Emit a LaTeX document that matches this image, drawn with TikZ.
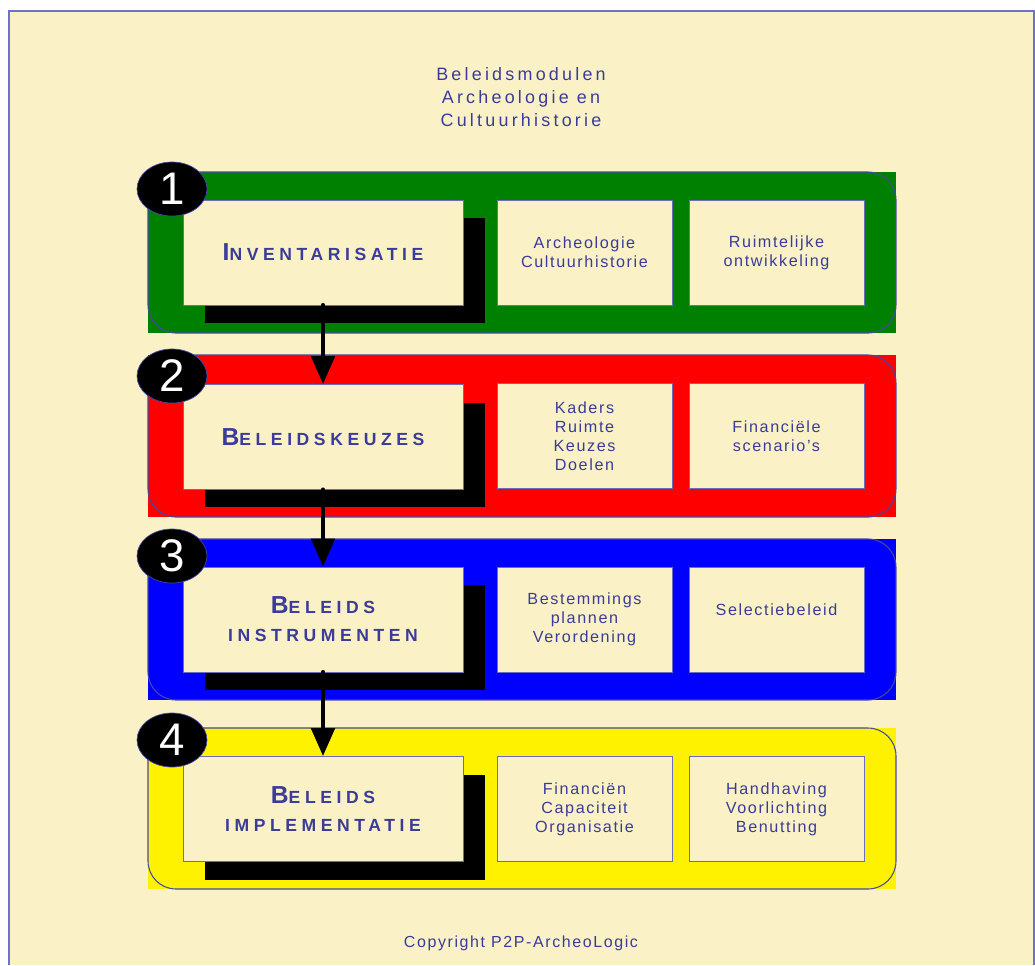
\documentclass[tikz,border=0pt]{standalone}
\usepackage{fontspec}
\setmainfont{Liberation Sans}
\newfontfamily\titlefont[LetterSpace=18]{Liberation Sans}
\newfontfamily\sidefont[LetterSpace=10]{Liberation Sans}
\newfontfamily\capsfont[LetterSpace=26]{Liberation Sans Bold}
\usetikzlibrary{
  arrows.meta,
  shapes.geometric,
  shadows,
}
\definecolor{paper}{HTML}{FAF2C6}
\definecolor{ink}{HTML}{3B3B9B}
\definecolor{edge}{HTML}{6C6CBC}
\definecolor{rim}{HTML}{4646A6}
\definecolor{frameline}{HTML}{7070C8}
\newcommand{\bigfirst}[2]{{\fontsize{14}{15.9}\selectfont #1}#2}
\tikzset{
  mainbox/.style={draw=edge, fill=paper, minimum width=5.6cm, minimum height=2.1cm,
    inner sep=0pt, align=center, text=ink, font={\capsfont\fontsize{10}{15.9}\selectfont},
    general shadow={fill=black, shadow xshift=0.44cm, shadow yshift=-0.36cm}},
  sidebox/.style={draw=edge, fill=paper, minimum width=3.5cm, minimum height=2.1cm,
    inner sep=0pt, align=center, text=ink, font={\sidefont\fontsize{9.2}{10.8}\selectfont}},
  badge/.style={ellipse, draw=rim, fill=black, text=white, minimum width=1.4cm,
    minimum height=1.08cm, inner sep=0pt, font={\fontsize{26}{26}\selectfont}},
  band/.style={rounded corners=0.56cm, draw=rim, line width=0.6pt},
  flow/.style={line width=2.8pt, line cap=round, -{Triangle[width=0.46cm, length=0.56cm]}},
}
\begin{document}
\begin{tikzpicture}[x=0.02cm, y=-0.02cm]
\useasboundingbox (0,0) rectangle (1035,965);
\fill[paper] (9,11) rectangle (1035,965);
\draw[frameline, line width=0.8pt] (9,965) |- (1034,11) -- (1034,965);

\node[text=ink, align=center, font={\titlefont\fontsize{10.2}{13}\selectfont}] (title) at (521,97)
  {Beleidsmodulen\\Archeologie en\\Cultuurhistorie};

\fill[green!50!black] (148,172) rectangle (896,333);
\draw[band] (148,172) rectangle (896,333);
\fill[red] (148,355) rectangle (896,517);
\draw[band] (148,355) rectangle (896,517);
\fill[blue] (148,539) rectangle (896,700);
\draw[band] (148,539) rectangle (896,700);
\fill[yellow] (148,728) rectangle (896,889);
\draw[band] (148,728) rectangle (896,889);

\node[mainbox] (inv) at (323,252.5) {\bigfirst{I}{NVENTARISATIE}};
\node[sidebox] (arch) at (584.5,252.5) {Archeologie\\Cultuurhistorie};
\node[sidebox] (ruimte) at (776.5,252.5) {Ruimtelijke\\ontwikkeling};

\node[mainbox] (keuze) at (323,437) {\bigfirst{B}{ELEIDSKEUZES}};
\node[sidebox] (kaders) at (584.5,436) {Kaders\\Ruimte\\Keuzes\\Doelen};
\node[sidebox] (fin) at (776.5,436) {Financiële\\scenario’s};

\node[mainbox] (instr) at (323,619.5) {\bigfirst{B}{ELEIDS}\\INSTRUMENTEN};
\node[sidebox] (bestem) at (584.5,619.5) {Bestemmings\\plannen\\Verordening};
\node[sidebox] (selectie) at (776.5,619.5) {Selectiebeleid\\\mbox{}};

\node[mainbox] (impl) at (323,809) {\bigfirst{B}{ELEIDS}\\IMPLEMENTATIE};
\node[sidebox] (middelen) at (584.5,809) {Financiën\\Capaciteit\\Organisatie};
\node[sidebox] (handhaving) at (776.5,809) {Handhaving\\Voorlichting\\Benutting};

\node[badge] (one) at (172,189) {1};
\node[badge] (two) at (172,376) {2};
\node[badge] (three) at (172,556) {3};
\node[badge] (four) at (172,740) {4};

\draw[flow] (inv.south) -- (keuze.north);
\draw[flow] (keuze.south) -- (instr.north);
\draw[flow] (instr.south) -- (impl.north);

\node[text=ink, font={\sidefont\fontsize{9.1}{11}\selectfont}] (copy) at (521,943)
  {Copyright P2P-ArcheoLogic};
\end{tikzpicture}
\end{document}
